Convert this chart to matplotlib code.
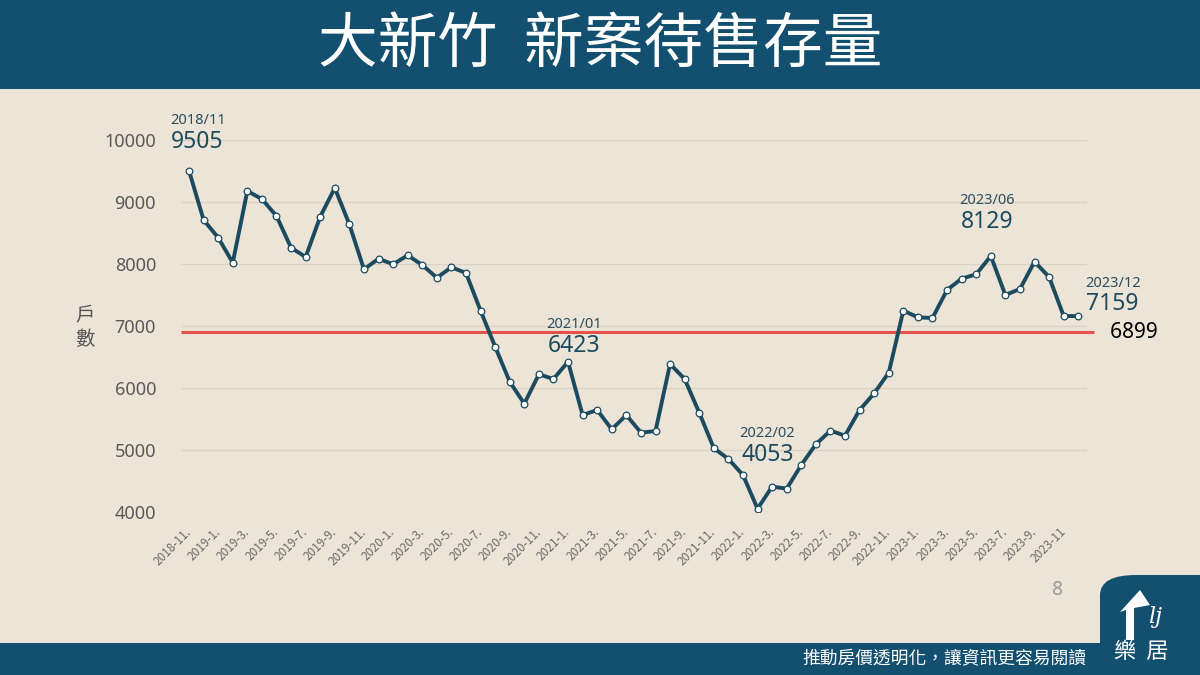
import matplotlib
matplotlib.use("Agg")
import matplotlib.pyplot as plt
from matplotlib.patches import Rectangle, FancyBboxPatch, Polygon

plt.rcParams['font.family'] = ['Noto Sans CJK TC', 'DejaVu Sans']

# 大新竹 新案待售存量 (2018/11 - 2023/12, 每月)
stock = [9505, 8710, 8425, 8021, 9177, 9048, 8774, 8263, 8113, 8763, 9226, 8640,
         7914, 8085, 7995, 8140, 7984, 7779, 7947, 7855, 7247, 6666, 6101, 5747,
         6221, 6145, 6423, 5564, 5645, 5333, 5564, 5280, 5306, 6387, 6145, 5602,
         5030, 4855, 4597, 4053, 4409, 4377, 4758, 5092, 5312, 5232, 5645, 5914,
         6247, 7247, 7140, 7129, 7581, 7764, 7834, 8129, 7500, 7597, 8037, 7790,
         7161, 7159]
tick_labels = ['2018-11.', '2019-1.', '2019-3.', '2019-5.', '2019-7.', '2019-9.',
               '2019-11.', '2020-1.', '2020-3.', '2020-5.', '2020-7.', '2020-9.',
               '2020-11.', '2021-1.', '2021-3.', '2021-5.', '2021-7.', '2021-9.',
               '2021-11.', '2022-1.', '2022-3.', '2022-5.', '2022-7.', '2022-9.',
               '2022-11.', '2023-1.', '2023-3.', '2023-5.', '2023-7.', '2023-9.',
               '2023-11']
avg_line = 6899
ann_idx = [0, 26, 39, 55, 61]
ann_dates = ['2018/11', '2021/01', '2022/02', '2023/06', '2023/12']

bg = '#ece4d6'
navy = '#134f6e'
line_c = '#1c4b60'
num_font = ['Noto Sans', 'Noto Sans CJK TC']

fig = plt.figure(figsize=(12, 6.75), dpi=100, facecolor=bg)

# banners
fig.patches.append(Rectangle((0, 1 - 89/675), 1, 89/675, transform=fig.transFigure,
                             facecolor=navy, edgecolor='none', zorder=0))
fig.patches.append(Rectangle((0, 0), 1, 32/675, transform=fig.transFigure,
                             facecolor=navy, edgecolor='none', zorder=0))
fig.patches.append(FancyBboxPatch((1100/1200, -0.1), 0.2, (100/675) + 0.1,
                                  boxstyle='round,pad=0,rounding_size=0.03',
                                  transform=fig.transFigure, facecolor=navy,
                                  edgecolor='none', zorder=0))
fig.text(0.5, 1 - 45/675, '大新竹  新案待售存量', color='white', fontsize=43,
         fontweight='medium', ha='center', va='center')
fig.text(1086/1200, 16/675, '推動房價透明化，讓資訊更容易閱讀', color='white',
         fontsize=12.8, ha='right', va='center')
fig.text(1141/1200, 24/675, '樂  居', color='white', fontsize=16,
         ha='center', va='center')
fig.patches.append(Polygon([(1126/1200, 1 - 640/675), (1126/1200, 1 - 610/675),
                            (1120/1200, 1 - 612/675), (1140/1200, 1 - 590/675),
                            (1150/1200, 1 - 605/675), (1134/1200, 1 - 608/675),
                            (1134/1200, 1 - 640/675)],
                           closed=True, transform=fig.transFigure,
                           facecolor='white', edgecolor='none'))
fig.text(1155/1200, 1 - 617/675, 'lj', color='white', fontsize=16, style='italic',
         family='DejaVu Serif', ha='center', va='center')
fig.text(1058/1200, 1 - 590/675, '8', color='#9a9a9a', fontsize=14,
         family=num_font, ha='center', va='center')
fig.text(85/1200, 1 - 327/675, '戶\n數', color='#555555', fontsize=14,
         ha='center', va='center', linespacing=1.25)

ax = fig.add_axes([181/1200, 1 - 512/675, 906/1200, 372/675])
ax.set_facecolor('none')
x = list(range(len(stock)))

ax.plot(x, stock, color=line_c, lw=2.8, marker='o', ms=4.8, mfc='white',
        mec=line_c, mew=0.9, zorder=3)
ax.hlines(avg_line, -0.55, 62.1, color='#e8504a', lw=2.2, zorder=2, clip_on=False)
ax.text(62.1, avg_line, '   ' + str(avg_line), color='black', fontsize=15,
        family=num_font, va='center', ha='left')

ax.set_ylim(4000, 10000)
ax.set_xlim(-0.55, 61.6)
ax.set_yticks(range(4000, 10001, 1000))
ax.set_yticklabels([str(v) for v in range(4000, 10001, 1000)], family=num_font)
ax.set_xticks(x[::2])
ax.set_xticklabels(tick_labels, rotation=45, ha='right', va='center',
                   rotation_mode='anchor', fontsize=8.5, color='#6a6a6a')
ax.tick_params(axis='x', length=0, pad=13)
ax.tick_params(axis='y', length=0, pad=18, labelsize=13, labelcolor='#595959')
ax.grid(axis='y', color='#d9d2c4', lw=0.9)
ax.set_axisbelow(True)
for s in ax.spines.values():
    s.set_visible(False)

offsets = {0: (9, 50, 8, 29), 26: (6, 37, 6, 16), 39: (10, 75, 10, 54),
           55: (-4, 56, -4, 34), 61: (35, 33, 34, 12)}
for i, d in zip(ann_idx, ann_dates):
    dx1, dy1, dx2, dy2 = offsets[i]
    ax.annotate(d, (i, stock[i]), xytext=(dx1, dy1), textcoords='offset pixels',
                ha='center', va='center', fontsize=10.5, color='#2c4f60',
                family=num_font)
    ax.annotate(str(stock[i]), (i, stock[i]), xytext=(dx2, dy2),
                textcoords='offset pixels', ha='center', va='center',
                fontsize=16.5, color='#1c4b60', family=num_font)

fig.savefig('out.png', dpi=100, facecolor=bg)
